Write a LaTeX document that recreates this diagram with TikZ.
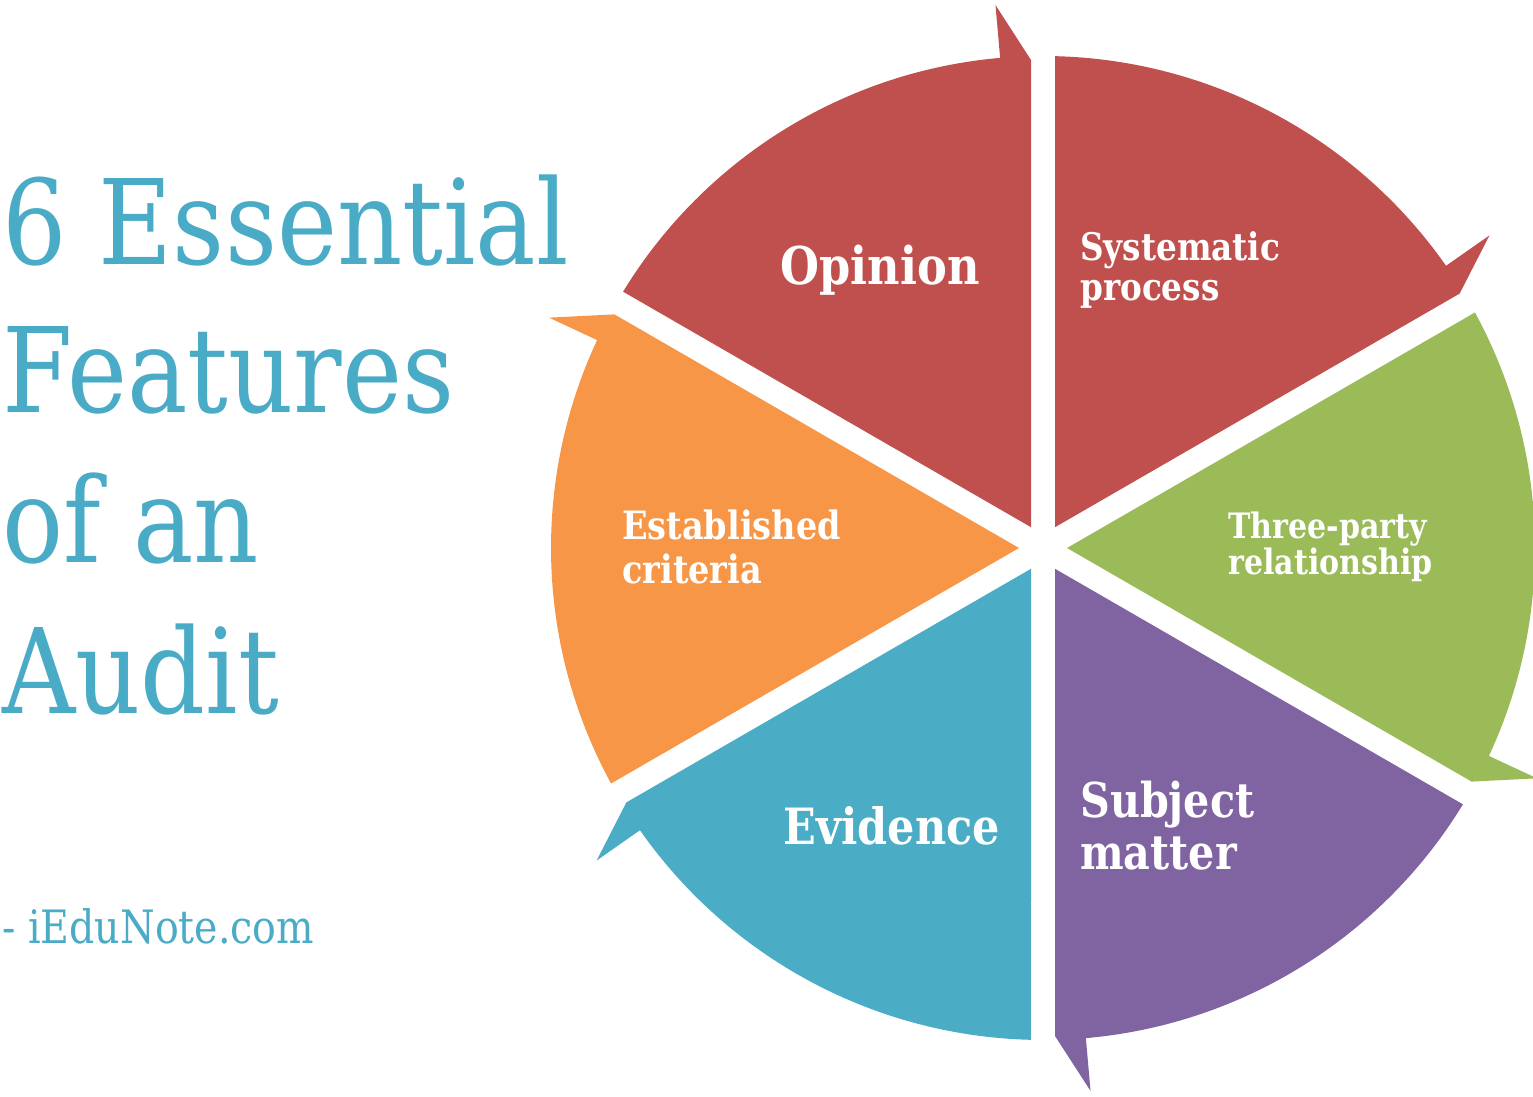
\documentclass[tikz,border=0pt]{standalone}
\usepackage{fontspec}
\setmainfont{DejaVu Serif}[FakeStretch=0.86]
\definecolor{cred}{HTML}{C0504D}
\definecolor{cgreen}{HTML}{9BBB59}
\definecolor{cpurple}{HTML}{8064A2}
\definecolor{cblue}{HTML}{4BACC6}
\definecolor{corange}{HTML}{F79646}
\definecolor{ctitle}{HTML}{4AABC6}
\tikzset{
  sector/.pic={\fill[pic actions] (120:24) -- (148.6:492) arc[start angle=148.6,end angle=95,radius=492] -- (95:545) -- (-12,488) -- (-12,456) -- cycle;},
  lbl/.style={text=white,font=\bfseries,inner sep=0pt,align=left},
  ttl/.style={text=ctitle,inner sep=0pt,anchor=base west}
}
\begin{document}
\begin{tikzpicture}[x=1pt,y=1pt]
\useasboundingbox (0,0) rectangle (1533,1096);
\coordinate (c) at (1043,548);
\pic[fill=cred] at (c) {sector};
\pic[fill=cred,rotate=-60] at (c) {sector};
\pic[fill=cgreen,rotate=-120] at (c) {sector};
\pic[fill=cpurple,rotate=-180] at (c) {sector};
\pic[fill=cblue,rotate=120] at (c) {sector};
\pic[fill=corange,rotate=60] at (c) {sector};
\node[lbl,font=\bfseries\fontsize{52}{52}\selectfont] (op) at (880,826) {Opinion};
\node[lbl,anchor=west,font=\bfseries\fontsize{38}{40}\selectfont] (sy) at (1080,826) {Systematic\\process};
\node[lbl,anchor=west,font=\bfseries\fontsize{35}{36}\selectfont] (tp) at (1228,549) {Three-party\\relationship};
\node[lbl,anchor=west,font=\bfseries\fontsize{48}{52}\selectfont] (sm) at (1080,270) {Subject\\matter};
\node[lbl,font=\bfseries\fontsize{50}{50}\selectfont] (ev) at (892,270) {Evidence};
\node[lbl,anchor=west,font=\bfseries\fontsize{39}{44}\selectfont] (ec) at (622,549) {Established\\criteria};
\node[ttl,font=\fontsize{118}{118}\selectfont] (t1) at (2,831) {6 Essential};
\node[ttl,font=\fontsize{118}{118}\selectfont] (t2) at (2,683) {Features};
\node[ttl,font=\fontsize{118}{118}\selectfont] (t3) at (2,533) {of an};
\node[ttl,font=\fontsize{118}{118}\selectfont] (t4) at (2,383) {Audit};
\node[ttl,font=\fontsize{46}{46}\selectfont] (src) at (2,153) {- iEduNote.com};
\end{tikzpicture}
\end{document}
